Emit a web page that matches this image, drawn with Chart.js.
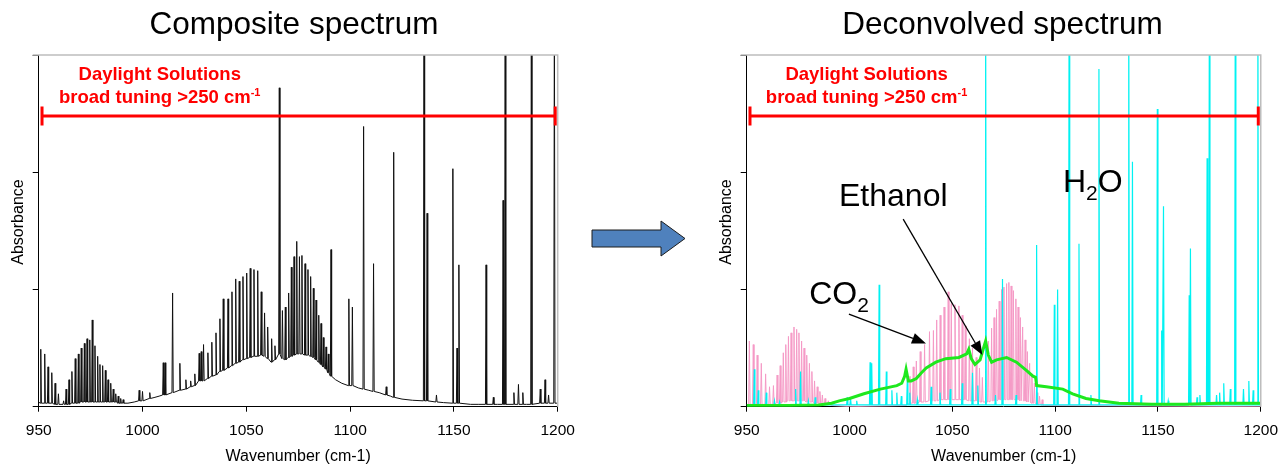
<!DOCTYPE html>
<html>
<head>
<meta charset="utf-8">
<title>Composite / deconvolved spectrum</title>
<script src="https://cdn.jsdelivr.net/npm/chart.js@4.4.1/dist/chart.umd.min.js"></script>
<style>
    html, body { margin: 0; padding: 0; background: #fff; }
    #wrap { position: relative; width: 1288px; height: 467px; }
    #wrap canvas, #wrap svg { position: absolute; left: 0; top: 0; }
</style>
</head>
<body>
<div id="wrap">
    <canvas id="composite" width="1288" height="467"></canvas>
    <canvas id="deconvolved" width="1288" height="467"></canvas>
    <svg width="1288" height="467" style="pointer-events:none">
        <polygon points="592,230 661,230 661,221 685,238.5 661,256 661,247 592,247"
                 fill="#4f81bd" stroke="#1c1c1c" stroke-width="1"/>
    </svg>
</div>
<script>
// --------------------------- Données ----------------------------------------------------
const wavenumberTicks = [950, 1000, 1050, 1100, 1150, 1200];
const absorbanceTicks = [0, 1, 2, 3];

// Spectre composite : position des raies, sommet, niveau du fond sous chaque raie
const compPeakX = [951.0, 952.9, 954.5, 956.3, 957.9, 959.5, 962.0, 963.2, 964.6, 966.0,
    967.6, 969.1, 970.5, 972.0, 973.3, 974.6, 975.8, 977.1, 978.4, 979.5,
    980.8, 982.1, 983.4, 984.7, 985.9, 987.1, 988.3, 989.5, 990.7, 998.4,
    1000.0, 1003.5, 1010.0, 1010.9, 1014.5, 1018.0, 1020.9, 1023.2, 1025.2, 1027.3,
    1028.3, 1029.4, 1031.5, 1033.4, 1035.4, 1037.3, 1038.9, 1041.2, 1043.1, 1044.9,
    1046.6, 1048.4, 1050.2, 1051.9, 1053.7, 1055.5, 1057.2, 1058.8, 1060.3, 1062.2,
    1063.8, 1065.9, 1067.4, 1068.8, 1070.4, 1071.7, 1073.0, 1074.3, 1075.6, 1076.8,
    1078.3, 1079.7, 1081.0, 1082.3, 1083.6, 1084.9, 1086.0, 1087.1, 1088.4, 1089.5,
    1090.8, 1099.4, 1101.1, 1106.5, 1111.3, 1117.4, 1121.0, 1135.6, 1137.1, 1141.6,
    1149.5, 1151.5, 1152.4, 1165.5, 1169.0, 1173.7, 1174.7, 1178.9, 1181.1, 1183.2,
    1187.3, 1191.6, 1193.9, 1195.6, 1198.4];
const compPeakY = [0.49, 0.45, 0.34, 0.29, 0.20, 0.11, 0.05, 0.15, 0.23, 0.30,
    0.41, 0.45, 0.50, 0.54, 0.58, 0.57, 0.74, 0.52, 0.43, 0.36,
    0.35, 0.31, 0.23, 0.20, 0.15, 0.11, 0.09, 0.07, 0.06, 0.14,
    0.13, 0.12, 0.375, 0.375, 0.97, 0.37, 0.23, 0.22, 0.28, 0.455,
    0.47, 0.53, 0.46, 0.55, 0.63, 0.75, 0.92, 0.92, 0.98, 1.09,
    1.07, 1.11, 1.14, 1.18, 1.17, 1.16, 0.98, 0.80, 0.68, 0.58,
    0.52, 2.72, 0.82, 0.85, 0.97, 1.19, 1.28, 1.41, 1.28, 1.29,
    1.22, 1.17, 1.11, 1.01, 0.91, 0.78, 0.71, 0.59, 0.51, 0.45,
    1.34, 0.92, 0.85, 2.39, 1.22, 0.17, 2.17, 3.5, 1.65, 0.10,
    2.03, 0.50, 1.21, 1.21, 0.08, 1.76, 3.5, 0.12, 0.19, 0.12,
    3.5, 0.15, 0.23, 0.10, 3.5];
const compPeakBase = [0.03, 0.03, 0.03, 0.03, 0.02, 0.02, 0.02, 0.02, 0.02, 0.03,
    0.03, 0.03, 0.04, 0.04, 0.04, 0.04, 0.04, 0.04, 0.04, 0.04,
    0.04, 0.04, 0.04, 0.04, 0.04, 0.04, 0.03, 0.03, 0.03, 0.05,
    0.05, 0.07, 0.10, 0.10, 0.12, 0.14, 0.15, 0.17, 0.18, 0.22,
    0.22, 0.22, 0.24, 0.26, 0.27, 0.30, 0.31, 0.33, 0.35, 0.37,
    0.38, 0.40, 0.41, 0.42, 0.43, 0.43, 0.44, 0.43, 0.41, 0.38,
    0.40, 0.45, 0.41, 0.40, 0.42, 0.43, 0.44, 0.45, 0.45, 0.45,
    0.44, 0.44, 0.43, 0.42, 0.40, 0.38, 0.36, 0.34, 0.32, 0.29,
    0.26, 0.18, 0.18, 0.15, 0.13, 0.10, 0.08, 0.05, 0.05, 0.04,
    0.03, 0.03, 0.03, 0.02, 0.02, 0.02, 0.02, 0.02, 0.02, 0.02,
    0.02, 0.03, 0.03, 0.03, 0.03];
// fond du spectre composite entre les raies
const compBaseX = [950, 993, 996, 1006, 1008, 1093, 1096, 1104, 1109, 1114, 1119.5, 1125, 1130, 1145, 1158, 1162, 1171, 1185, 1200];
const compBaseY = [0.04, 0.03, 0.04, 0.08, 0.09, 0.23, 0.20, 0.16, 0.14, 0.12, 0.09, 0.065, 0.055, 0.035, 0.02, 0.02, 0.02, 0.02, 0.03];

// CO2 (rose)
const co2PeakX = [951.3, 953.2, 955.1, 957.1, 959.2, 961.1, 963.0, 964.8, 966.3, 967.8,
    969.0, 970.3, 971.6, 973.0, 974.3, 975.4, 976.7, 977.9, 979.2, 980.5,
    981.7, 983.0, 984.3, 985.6, 986.8, 988.1, 989.7,
    1029.4, 1031.0, 1032.5, 1034.4, 1036.5, 1038.9, 1040.8, 1042.4, 1044.1, 1046.0,
    1048.0, 1049.5, 1051.3, 1053.2, 1054.8, 1056.3, 1058.3, 1059.8, 1061.6, 1063.2, 1064.6,
    1067.5, 1069.1, 1070.3, 1071.5, 1072.8, 1074.0, 1075.1, 1076.4, 1077.5, 1078.6,
    1079.7, 1080.9, 1082.0, 1083.1, 1084.2, 1085.4, 1086.5, 1087.6, 1088.7, 1089.9,
    1091.2, 1092.4, 1093.7];
const co2PeakY = [0.56, 0.53, 0.44, 0.37, 0.28, 0.17, 0.18, 0.27, 0.35, 0.46,
    0.53, 0.60, 0.63, 0.68, 0.66, 0.63, 0.56, 0.50, 0.44, 0.37,
    0.30, 0.22, 0.17, 0.13, 0.10, 0.07, 0.05,
    0.26, 0.34, 0.39, 0.47, 0.53, 0.64, 0.65, 0.74, 0.78, 0.85,
    0.98, 0.88, 0.87, 0.86, 0.78, 0.69, 0.58, 0.50, 0.42, 0.33, 0.25,
    0.56, 0.67, 0.76, 0.83, 0.90, 1.00, 1.02, 1.05, 1.06, 1.03,
    0.99, 0.92, 0.85, 0.76, 0.68, 0.57, 0.47, 0.37, 0.28, 0.20,
    0.12, 0.09, 0.06];
const co2PeakBase = [0.02, 0.02, 0.02, 0.02, 0.02, 0.02, 0.02, 0.03, 0.03, 0.04,
    0.04, 0.05, 0.05, 0.05, 0.05, 0.05, 0.05, 0.05, 0.04, 0.04,
    0.04, 0.03, 0.03, 0.03, 0.02, 0.02, 0.02,
    0.03, 0.03, 0.03, 0.04, 0.04, 0.05, 0.05, 0.05, 0.06, 0.06,
    0.06, 0.06, 0.06, 0.06, 0.06, 0.06, 0.05, 0.05, 0.05, 0.04, 0.04,
    0.04, 0.05, 0.05, 0.05, 0.06, 0.06, 0.06, 0.06, 0.06, 0.06,
    0.06, 0.06, 0.06, 0.05, 0.05, 0.05, 0.04, 0.04, 0.03, 0.03,
    0.02, 0.02, 0.01];
const co2BaseX = [950, 991.5, 1000, 1027.5, 1066, 1095, 1200];
const co2BaseY = [0.02, 0.01, 0.0, 0.01, 0.04, 0.01, 0.0];

// H2O (cyan)
const h2oPeakX = [953.7, 955.6, 959.5, 963.5, 966.0, 973.8, 976.2, 980.0, 983.3, 998.9,
    1000.5, 1003.5, 1010.0, 1010.8, 1014.4, 1017.9, 1020.6, 1023.0, 1025.2, 1028.1,
    1029.3, 1033.0, 1039.7, 1044.0, 1049.0, 1054.8, 1059.8, 1062.4, 1066.2, 1071.0,
    1074.4, 1081.0, 1091.0, 1099.6, 1101.2, 1106.8, 1111.6, 1117.4, 1121.3, 1135.8,
    1137.6, 1141.8, 1149.7, 1151.8, 1152.7, 1155.0, 1165.2, 1165.8, 1169.0, 1170.4,
    1173.9, 1175.0, 1178.5, 1180.0, 1182.0, 1185.2, 1187.6, 1191.6, 1194.2, 1196.3, 1198.6];
const h2oPeakY = [0.32, 0.14, 0.12, 0.05, 0.04, 0.15, 0.30, 0.05, 0.08, 0.08,
    0.07, 0.05, 0.38, 0.37, 1.04, 0.30, 0.14, 0.12, 0.09, 0.23,
    0.12, 0.06, 0.17, 0.12, 0.15, 0.20, 0.29, 0.18, 3.5, 0.10,
    1.09, 0.10, 1.38, 0.87, 1.00, 3.5, 1.39, 0.10, 2.88, 3.5,
    2.09, 0.10, 2.54, 0.65, 1.71, 0.05, 0.95, 1.35, 0.08, 0.10,
    2.12, 3.5, 0.10, 0.12, 0.20, 0.15, 3.5, 0.15, 0.22, 0.14, 3.5];
const h2oFloor = 0.015;
const h2oBaseX = [950, 1200];
const h2oBaseY = [0.015, 0.015];

// Ethanol (vert) : courbe large
const etohX = [950, 970, 985, 991.3, 995, 1000, 1007, 1015, 1023, 1025.4, 1026.8, 1027.5, 1028.6, 1030,
    1032.5, 1035, 1037.3, 1042, 1046.8, 1053.2, 1057, 1058, 1059.2, 1061, 1063.5, 1065, 1066.2, 1067.5,
    1069.1, 1071.5, 1076.4, 1081.2, 1086, 1089.2, 1090.5, 1091, 1095.7, 1103.7, 1108.5, 1115, 1121.4,
    1131, 1147, 1163, 1179, 1200];
const etohY = [0.01, 0.01, 0.015, 0.03, 0.05, 0.07, 0.11, 0.15, 0.18, 0.20, 0.26, 0.32, 0.22, 0.22,
    0.24, 0.29, 0.33, 0.38, 0.41, 0.42, 0.45, 0.49, 0.41, 0.36, 0.40, 0.49, 0.56, 0.44,
    0.38, 0.40, 0.42, 0.38, 0.31, 0.26, 0.25, 0.18, 0.17, 0.15, 0.11, 0.07, 0.05,
    0.03, 0.02, 0.02, 0.03, 0.03];

// Annotations (coordonnées en unités des axes)
const tuningRange = [951.6, 1198.8];
const tuningLevel = 2.48;
const tuningTextX = 1008.3;

// ---------------------------- Construction des séries ------------------------------------
function buildSpectrum(peakX, peakY, peakBase, baseX, baseY, halfWidth) {
    const pts = [];
    peakX.forEach((x, i) => {
        const b = Array.isArray(peakBase) ? peakBase[i] : peakBase;
        pts.push({ x: x - halfWidth, y: b });
        pts.push({ x: x, y: peakY[i] });
        pts.push({ x: x + halfWidth, y: b });
    });
    baseX.forEach((x, i) => {
        if (peakX.every(p => Math.abs(p - x) > halfWidth * 2)) {
            pts.push({ x: x, y: baseY[i] });
        }
    });
    return pts.sort((a, b) => a.x - b.x);
}

const FONT = 'Liberation Sans, Arial, sans-serif';

function drawRuns(ctx, runs, x, baseline, align) {
    let w = 0;
    runs.forEach(r => { ctx.font = r.font; w += ctx.measureText(r.text).width; });
    let px = align === 'center' ? x - w / 2 : x;
    ctx.textAlign = 'left';
    ctx.textBaseline = 'alphabetic';
    runs.forEach(r => {
        ctx.font = r.font;
        ctx.fillText(r.text, px, baseline + (r.dy || 0));
        px += ctx.measureText(r.text).width;
    });
}

function drawArrow(ctx, x1, y1, x2, y2) {
    const ang = Math.atan2(y2 - y1, x2 - x1);
    const len = 14, half = 5.5;
    const bx = x2 - len * Math.cos(ang), by = y2 - len * Math.sin(ang);
    ctx.strokeStyle = '#000';
    ctx.lineWidth = 1.3;
    ctx.beginPath(); ctx.moveTo(x1, y1); ctx.lineTo(bx, by); ctx.stroke();
    ctx.fillStyle = '#000';
    ctx.beginPath();
    ctx.moveTo(x2, y2);
    ctx.lineTo(bx + half * Math.sin(ang), by - half * Math.cos(ang));
    ctx.lineTo(bx - half * Math.sin(ang), by + half * Math.cos(ang));
    ctx.closePath(); ctx.fill();
}

// ---------------------------- Décor : cadre, titres, annotations ------------------------------------
function decorPlugin(cfg) {
    return {
        id: 'decor',
        afterDatasetsDraw(chart) {
            const { ctx, chartArea: a, scales: { x, y } } = chart;
            ctx.save();
            // cadre gris haut / droite
            ctx.strokeStyle = '#bdbdbd';
            ctx.lineWidth = 1.5;
            ctx.beginPath();
            ctx.moveTo(a.left - 6, a.top); ctx.lineTo(a.right, a.top); ctx.lineTo(a.right, a.bottom);
            ctx.stroke();

            // barre rouge de l'accord
            const rx1 = x.getPixelForValue(tuningRange[0]);
            const rx2 = x.getPixelForValue(tuningRange[1]);
            const ry = y.getPixelForValue(tuningLevel);
            ctx.strokeStyle = '#ff0000';
            ctx.lineWidth = 3;
            ctx.beginPath();
            ctx.moveTo(rx1, ry); ctx.lineTo(rx2, ry);
            ctx.moveTo(rx1, ry - 9.5); ctx.lineTo(rx1, ry + 9.5);
            ctx.moveTo(rx2, ry - 9.5); ctx.lineTo(rx2, ry + 9.5);
            ctx.stroke();
            ctx.fillStyle = '#ff0000';
            const tx = x.getPixelForValue(tuningTextX);
            drawRuns(ctx, [{ text: 'Daylight Solutions', font: 'bold 18.5px ' + FONT }], tx, 80, 'center');
            drawRuns(ctx, [
                { text: 'broad tuning >250 cm', font: 'bold 18.5px ' + FONT },
                { text: '-1', font: 'bold 11px ' + FONT, dy: -7 }
            ], tx, 103, 'center');

            // titre
            ctx.fillStyle = '#000';
            drawRuns(ctx, [{ text: cfg.title, font: '31.5px ' + FONT }], cfg.titleX, 34, 'center');

            // titre de l'axe Y
            ctx.save();
            ctx.translate(cfg.yTitleX, 222);
            ctx.rotate(-Math.PI / 2);
            ctx.font = '16px ' + FONT;
            ctx.textAlign = 'center';
            ctx.textBaseline = 'middle';
            ctx.fillText('Absorbance', 0, 0);
            ctx.restore();

            // étiquettes des espèces
            (cfg.labels || []).forEach(l => {
                drawRuns(ctx, l.runs, x.getPixelForValue(l.x), y.getPixelForValue(l.y), 'left');
            });
            (cfg.arrows || []).forEach(ar => {
                drawArrow(ctx, x.getPixelForValue(ar[0]), y.getPixelForValue(ar[1]),
                    x.getPixelForValue(ar[2]), y.getPixelForValue(ar[3]));
            });
            ctx.restore();
        }
    };
}

function spectrumOptions(padLeft, padRight, yAxisWidth) {
    return {
        responsive: false,
        animation: false,
        events: [],
        layout: { padding: { top: 55, left: padLeft, right: padRight, bottom: 0 } },
        elements: { point: { radius: 0 }, line: { tension: 0 } },
        plugins: { legend: { display: false }, tooltip: { enabled: false } },
        scales: {
            x: {
                type: 'linear', min: 950, max: 1200,
                afterBuildTicks: axis => { axis.ticks = wavenumberTicks.map(v => ({ value: v })); },
                ticks: { color: '#000', font: { family: FONT, size: 15.5 }, padding: 10, maxRotation: 0,
                         callback: v => String(v) },
                grid: { drawOnChartArea: false, drawTicks: true, tickLength: 5, color: '#000' },
                border: { color: '#000', width: 1 },
                title: { display: true, text: 'Wavenumber (cm-1)', color: '#000',
                         font: { family: FONT, size: 16 }, padding: { top: 0, bottom: 1 } },
                afterFit: axis => { axis.height = 60.3; }
            },
            y: {
                type: 'linear', min: 0, max: 3,
                afterBuildTicks: axis => { axis.ticks = absorbanceTicks.map(v => ({ value: v })); },
                ticks: { display: false },
                grid: { drawOnChartArea: false, drawTicks: true, tickLength: 6, color: '#000' },
                border: { color: '#000', width: 1 },
                afterFit: axis => { axis.width = yAxisWidth; }
            }
        }
    };
}

// ---------------------------- Graphique 1 : spectre composite ------------------------------------
new Chart(document.getElementById('composite'), {
    type: 'line',
    data: {
        datasets: [{
            data: buildSpectrum(compPeakX, compPeakY, compPeakBase, compBaseX, compBaseY, 0.3),
            borderColor: '#111111',
            borderWidth: 1
        }]
    },
    options: spectrumOptions(0, 730.3, 38.7),
    plugins: [decorPlugin({ title: 'Composite spectrum', titleX: 294, yTitleX: 19 })]
});

// ---------------------------- Graphique 2 : spectre déconvolué ------------------------------------
new Chart(document.getElementById('deconvolved'), {
    type: 'line',
    data: {
        datasets: [
            { label: 'Ethanol', data: etohX.map((x, i) => ({ x: x, y: etohY[i] })),
              borderColor: '#1ee81e', borderWidth: 3 },
            { label: 'H2O', data: buildSpectrum(h2oPeakX, h2oPeakY, h2oFloor, h2oBaseX, h2oBaseY, 0.3),
              borderColor: '#00f2f2', borderWidth: 1.2 },
            { label: 'CO2', data: buildSpectrum(co2PeakX, co2PeakY, co2PeakBase, co2BaseX, co2BaseY, 0.35),
              borderColor: '#f59ac6', borderWidth: 1 }
        ]
    },
    options: spectrumOptions(700, 21.3, 46.7),
    plugins: [decorPlugin({
        title: 'Deconvolved spectrum', titleX: 1002.5, yTitleX: 727,
        labels: [
            { x: 994.9, y: 1.71, runs: [{ text: 'Ethanol', font: '32px ' + FONT }] },
            { x: 1103.8, y: 1.83, runs: [{ text: 'H', font: '32px ' + FONT },
                                         { text: '2', font: '21px ' + FONT, dy: 8 },
                                         { text: 'O', font: '32px ' + FONT }] },
            { x: 980.4, y: 0.88, runs: [{ text: 'CO', font: '32px ' + FONT },
                                        { text: '2', font: '21px ' + FONT, dy: 8 }] }
        ],
        arrows: [
            [1026.1, 1.60, 1064.6, 0.44],
            [999.7, 0.79, 1037.2, 0.54]
        ]
    })]
});
</script>
</body>
</html>
